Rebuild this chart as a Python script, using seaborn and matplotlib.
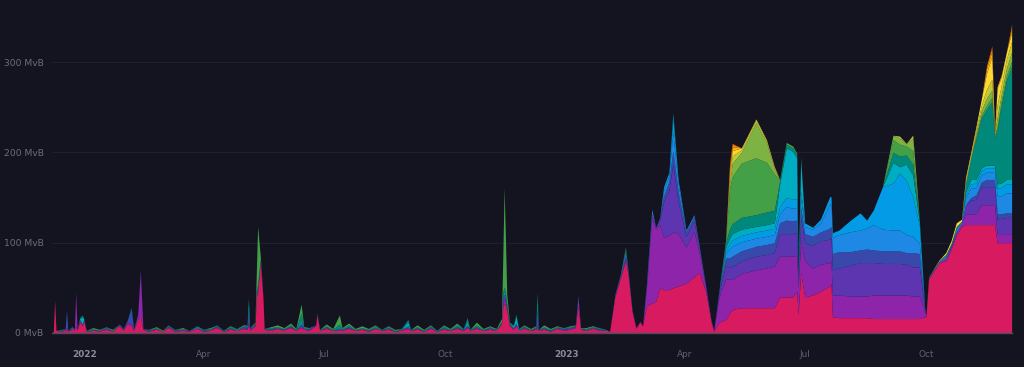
import numpy as np
import pandas as pd
import matplotlib
matplotlib.use("Agg")
import matplotlib.pyplot as plt
import seaborn as sns

# ---------------- data ----------------
layer_names = ["pk", "pu", "dp", "ind", "bl", "lb", "cy", "tl", "gr", "lg", "li", "ye", "am", "orr", "do"]
layer_colors = ["#D81B60", "#8E24AA", "#5E35B1", "#3949AB", "#1E88E5", "#039BE5", "#00ACC1",
                "#00897B", "#43A047", "#7CB342", "#C0CA33", "#FDD835", "#FFB300", "#FB8C00", "#F4511E"]

# quiet period (Dec 2021 - Jan 2023): only a few fee layers present
quiet_dates = [
    "2021-12-07", "2021-12-08", "2021-12-09", "2021-12-10", "2021-12-14", "2021-12-17", "2021-12-18", "2021-12-19",
    "2021-12-22", "2021-12-24", "2021-12-25", "2021-12-26", "2021-12-28", "2021-12-30", "2021-12-31",
    "2022-01-02", "2022-01-07", "2022-01-12", "2022-01-17", "2022-01-22", "2022-01-27", "2022-01-30", "2022-02-02",
    "2022-02-05", "2022-02-07", "2022-02-10", "2022-02-12", "2022-02-14", "2022-02-18", "2022-02-24",
    "2022-03-01", "2022-03-05", "2022-03-10", "2022-03-16", "2022-03-21", "2022-03-27", "2022-04-01", "2022-04-06",
    "2022-04-11", "2022-04-16", "2022-04-21", "2022-04-26", "2022-05-01", "2022-05-04", "2022-05-05",
    "2022-05-06", "2022-05-10", "2022-05-11", "2022-05-12", "2022-05-14", "2022-05-16", "2022-05-17", "2022-05-22",
    "2022-05-27", "2022-06-01", "2022-06-06", "2022-06-10", "2022-06-14", "2022-06-16", "2022-06-20",
    "2022-06-25", "2022-06-26", "2022-06-28", "2022-07-03", "2022-07-08", "2022-07-13", "2022-07-15", "2022-07-20",
    "2022-07-25", "2022-07-30", "2022-08-04", "2022-08-09", "2022-08-14", "2022-08-19", "2022-08-24",
    "2022-08-29", "2022-09-03", "2022-09-05", "2022-09-10", "2022-09-15", "2022-09-20", "2022-09-25", "2022-09-30",
    "2022-10-05", "2022-10-10", "2022-10-15", "2022-10-18", "2022-10-20", "2022-10-25", "2022-10-30",
    "2022-11-04", "2022-11-09", "2022-11-13", "2022-11-14", "2022-11-15", "2022-11-16", "2022-11-17", "2022-11-19",
    "2022-11-22", "2022-11-24", "2022-11-26", "2022-11-30", "2022-12-05", "2022-12-09", "2022-12-10",
    "2022-12-11", "2022-12-15", "2022-12-20", "2022-12-25", "2022-12-30", "2023-01-04", "2023-01-08", "2023-01-10",
    "2023-01-12", "2023-01-16", "2023-01-21", "2023-01-26", "2023-01-31",
]
quiet_pk = [0, 2, 36, 3, 2, 3, 4, 2, 4, 3, 8, 3, 12, 8, 14,
            2, 3, 2, 4, 2, 8, 3, 10, 8, 3, 15, 18, 4, 2, 4,
            2, 6, 2, 3, 2, 5, 2, 3, 6, 2, 4, 3, 5, 4, 10,
            3, 8, 40, 45, 78, 40, 4, 3, 5, 3, 6, 3, 6, 4, 3,
            8, 20, 3, 5, 3, 3, 3, 5, 3, 4, 2, 5, 3, 4, 2,
            3, 5, 3, 4, 2, 5, 2, 4, 3, 5, 3, 6, 3, 5, 3,
            4, 3, 10, 30, 33, 30, 25, 8, 4, 8, 3, 5, 3, 4, 5,
            3, 4, 2, 5, 3, 4, 6, 30, 4, 3, 5, 3, 3]
quiet_pu = [0, 0, 1, 0, 0, 1, 2, 0, 1, 2, 36, 1, 2, 1, 1,
            0, 0, 1, 1, 0, 1, 1, 2, 2, 1, 5, 50, 1, 0, 1,
            0, 1, 1, 0, 1, 1, 0, 1, 1, 0, 1, 0, 1, 1, 2,
            1, 1, 2, 2, 2, 1, 0, 1, 0, 1, 1, 0, 2, 1, 1,
            1, 1, 0, 1, 0, 1, 1, 1, 0, 1, 0, 1, 0, 1, 0,
            1, 1, 0, 1, 0, 1, 0, 1, 0, 1, 0, 1, 0, 1, 0,
            1, 0, 1, 5, 5, 5, 3, 1, 1, 1, 0, 1, 0, 1, 2,
            0, 1, 0, 1, 1, 1, 1, 10, 1, 0, 1, 1, 0]
quiet_ind = [0, 0, 0, 0, 1, 1, 20, 1, 1, 0, 2, 0, 1, 1, 0,
             0, 1, 0, 1, 0, 1, 0, 2, 16, 0, 1, 2, 0, 1, 0,
             0, 1, 0, 1, 0, 0, 1, 0, 1, 0, 1, 0, 1, 2, 14,
             1, 1, 2, 2, 1, 0, 0, 1, 1, 0, 1, 0, 3, 0, 1,
             0, 0, 0, 1, 0, 1, 0, 1, 0, 0, 1, 0, 0, 1, 0,
             0, 2, 0, 1, 0, 1, 0, 1, 0, 1, 1, 2, 0, 1, 0,
             1, 0, 1, 5, 5, 4, 2, 1, 1, 2, 0, 1, 0, 1, 18,
             0, 1, 1, 0, 1, 1, 1, 1, 0, 1, 0, 1, 0]
quiet_cy = [0, 0, 0, 0, 0, 0, 0, 0, 0, 0, 0, 0, 1, 8, 1,
            0, 0, 0, 0, 0, 0, 0, 0, 1, 0, 0, 0, 0, 0, 0,
            0, 0, 0, 0, 0, 1, 0, 0, 0, 0, 0, 1, 0, 1, 10,
            0, 0, 1, 1, 0, 0, 0, 0, 0, 0, 0, 0, 3, 0, 0,
            0, 0, 0, 0, 0, 1, 0, 0, 0, 0, 0, 0, 0, 0, 0,
            0, 4, 0, 0, 0, 0, 0, 0, 0, 0, 0, 4, 0, 0, 0,
            0, 0, 0, 2, 3, 2, 1, 0, 2, 8, 1, 0, 0, 0, 2,
            0, 0, 0, 0, 0, 0, 0, 0, 0, 0, 0, 0, 0]
quiet_tl = [0, 0, 0, 0, 1, 0, 0, 0, 1, 0, 0, 0, 1, 2, 0,
            1, 1, 0, 1, 1, 0, 1, 0, 1, 1, 0, 0, 0, 1, 1,
            0, 1, 1, 1, 0, 1, 1, 1, 1, 1, 1, 1, 1, 1, 3,
            1, 1, 3, 3, 1, 0, 1, 1, 1, 1, 1, 1, 8, 1, 1,
            0, 1, 1, 1, 1, 4, 1, 2, 1, 1, 1, 2, 1, 1, 1,
            1, 3, 1, 1, 1, 1, 1, 2, 1, 2, 1, 3, 1, 2, 1,
            1, 1, 1, 3, 5, 4, 2, 1, 1, 2, 1, 1, 1, 1, 18,
            1, 1, 1, 1, 1, 1, 1, 1, 1, 1, 1, 1, 1]
quiet_gr = [0, 0, 0, 0, 0, 0, 0, 0, 0, 0, 0, 0, 0, 0, 0,
            0, 1, 1, 0, 1, 0, 0, 0, 0, 0, 0, 0, 0, 0, 1,
            1, 0, 0, 1, 0, 0, 0, 1, 0, 0, 1, 0, 1, 0, 0,
            0, 1, 20, 65, 3, 0, 0, 1, 2, 1, 2, 1, 10, 1, 0,
            0, 0, 0, 2, 1, 10, 1, 2, 1, 2, 1, 1, 0, 1, 1,
            0, 0, 0, 2, 1, 1, 0, 1, 1, 2, 0, 1, 0, 3, 1,
            1, 1, 3, 40, 110, 60, 10, 1, 0, 0, 0, 1, 1, 1, 0,
            0, 2, 1, 1, 0, 1, 0, 0, 0, 1, 1, 0, 0]

# busy period (Feb 2023 - Dec 2023): all fee layers
busy_dates = [
    "2023-02-03", "2023-02-07", "2023-02-11", "2023-02-15", "2023-02-17", "2023-02-20", "2023-02-23", "2023-02-26",
    "2023-02-28", "2023-03-03", "2023-03-07", "2023-03-10", "2023-03-13", "2023-03-16", "2023-03-20", "2023-03-23",
    "2023-03-27", "2023-04-02", "2023-04-08", "2023-04-12", "2023-04-17", "2023-04-21", "2023-04-23", "2023-04-27",
    "2023-05-02", "2023-05-05", "2023-05-07", "2023-05-14", "2023-05-25", "2023-06-02", "2023-06-08", "2023-06-12",
    "2023-06-17", "2023-06-22", "2023-06-25", "2023-06-26", "2023-06-28", "2023-07-01", "2023-07-07", "2023-07-13",
    "2023-07-20", "2023-07-21", "2023-07-22", "2023-07-27", "2023-08-04", "2023-08-12", "2023-08-17", "2023-08-22",
    "2023-08-29", "2023-09-06", "2023-09-11", "2023-09-16", "2023-09-21", "2023-09-26", "2023-09-30", "2023-10-01",
    "2023-10-03", "2023-10-11", "2023-10-16", "2023-10-20", "2023-10-24", "2023-10-28", "2023-10-31", "2023-11-04",
    "2023-11-08", "2023-11-12", "2023-11-16", "2023-11-20", "2023-11-22", "2023-11-24", "2023-11-27", "2023-12-01",
    "2023-12-05",
]
busy_pk = [2, 40, 60, 80, 65, 24, 5, 12, 8, 30, 33, 35, 50, 48, 48, 50, 52, 55, 62, 67,
           45, 12, 2, 12, 15, 22, 26, 28, 28, 28, 28, 40, 40, 40, 46, 20, 67, 40, 42, 46,
           52, 55, 18, 17, 17, 17, 17, 16, 16, 16, 16, 16, 16, 16, 18, 18, 60, 78, 80, 92,
           108, 118, 120, 120, 120, 120, 120, 120, 120, 100, 100, 100, 100]
busy_pu = [0, 2, 2, 3, 2, 2, 1, 1, 0, 20, 95, 80, 70, 58, 60, 62, 58, 40, 50, 22,
           5, 2, 1, 28, 45, 38, 33, 38, 42, 44, 46, 45, 45, 45, 40, 30, 35, 40, 30, 30,
           26, 25, 24, 25, 24, 24, 24, 26, 26, 26, 26, 26, 25, 25, 6, 2, 1, 1, 3, 3,
           4, 4, 12, 12, 12, 22, 22, 22, 22, 10, 10, 10, 10]
busy_dp = [0] * 9 + [3, 5, 2, 5, 40, 50, 75, 35, 12, 12, 5,
                     0, 0, 0, 5, 15, 13, 15, 14, 15, 15, 15, 25, 25, 25, 25, 10, 25, 20, 25, 26,
                     26, 26, 28, 30, 34, 37, 37, 36, 35, 35, 35, 34, 32, 32, 3, 0, 0, 0, 0, 0,
                     0, 0, 10, 15, 16, 20, 20, 20, 20, 16, 17, 18, 18]
busy_ind = [0, 1, 0, 3, 0, 0, 0, 0, 0, 0, 0, 0, 3, 6, 10, 15, 12, 5, 5, 0,
            0, 0, 0, 3, 8, 10, 11, 11, 11, 11, 11, 12, 15, 14, 14, 0, 12, 10, 10, 10,
            12, 12, 18, 18, 15, 14, 15, 14, 14, 14, 14, 13, 16, 15, 2, 0, 0, 0, 0, 2,
            0, 0, 0, 3, 5, 5, 8, 8, 8, 6, 5, 5, 5]
busy_bl = [0, 0, 1, 4, 2, 0, 0, 0, 0, 2, 4, 0, 0, 6, 6, 20, 8, 2, 2, 2,
           1, 0, 0, 0, 6, 10, 11, 10, 9, 9, 9, 10, 15, 14, 14, 0, 10, 8, 8, 10,
           27, 25, 18, 19, 22, 22, 23, 28, 24, 23, 23, 20, 18, 11, 0, 0, 0, 1, 2, 0,
           3, 2, 8, 10, 8, 8, 8, 8, 8, 20, 20, 22, 22]
busy_lb = [0] * 13 + [4, 4, 15, 5, 0, 0, 0,
                      0, 0, 0, 0, 3, 6, 7, 7, 7, 7, 7, 8, 10, 10, 10, 0, 8, 4, 2, 4,
                      8, 8, 5, 5, 12, 19, 9, 16, 47, 52, 63, 60, 44, 20, 0, 0, 0, 0, 0, 0,
                      0, 0, 3, 5, 5, 5, 5, 5, 5, 8, 9, 10, 10]
busy_cy = ([0] * 15 + [5] + [0] * 8 + [3, 6, 7, 7, 6, 6, 6, 25, 55, 53, 45, 0, 35, 0, 0, 0]
           + [0] * 9 + [23, 7, 18, 24, 4] + [0] * 8 + [3, 5, 4, 3, 3, 3, 3, 5, 5, 5, 5])
busy_tl = ([0, 0, 1, 3] + [0] * 11 + [2] + [0] * 8 + [5, 10, 11, 13, 13, 14, 14, 3, 4, 4, 3, 0, 3]
           + [0] * 12 + [11, 12, 10, 12, 2, 0, 0, 1, 0, 2, 2, 3, 0, 10, 24, 45, 55, 62, 70, 30, 60, 85, 110, 125])
busy_gr = ([0, 0, 0, 2] + [0] * 20 + [3, 45, 52, 60, 63, 55, 40, 2, 2, 2, 2, 0, 0]
           + [0] * 12 + [14, 13, 10, 15, 0] + [0] * 10 + [3, 3, 4, 5, 3, 3, 4, 5, 6])
busy_lg = [0] * 25 + [5, 15, 12, 39, 22, 5] + [0] * 18 + [5, 7, 3, 14, 0] + [0] * 10 + [4, 5, 8, 8, 3, 10, 8, 8, 10]
busy_li = ([0] * 25 + [6, 8, 3, 3, 2, 2] + [0] * 19 + [2, 0, 3] + [0] * 4 + [1] + [0] * 4
           + [3, 3, 4, 6, 10, 12, 0, 15, 10, 10, 12])
busy_ye = [0] * 25 + [6, 6, 2, 1, 1, 1] + [0] * 27 + [2, 3, 4, 2, 3, 3, 3, 7, 18, 25, 0, 18, 10, 8, 10]
busy_am = [0] * 25 + [4, 4] + [0] * 39 + [5, 6, 0, 2, 2, 0, 4]
busy_orr = [0] * 25 + [4, 3] + [0] * 39 + [3, 4, 0, 0, 0, 0, 3]
busy_do = [0] * 25 + [3, 1] + [0] * 40 + [2, 0, 0, 0, 0, 2]

tick_dates = ["2022-01-01", "2022-04-01", "2022-07-01", "2022-10-01",
              "2023-01-01", "2023-04-01", "2023-07-01", "2023-10-01"]
tick_labels = ["2022", "Apr", "Jul", "Oct", "2023", "Apr", "Jul", "Oct"]
y_ticks = [0, 100, 200, 300]
y_labels = ["0 MvB", "100 MvB", "200 MvB", "300 MvB"]

# ---------------- frame ----------------
quiet = pd.DataFrame({"pk": quiet_pk, "pu": quiet_pu, "ind": quiet_ind, "cy": quiet_cy,
                      "tl": quiet_tl, "gr": quiet_gr}, index=pd.to_datetime(quiet_dates))
busy_cols = {"pk": busy_pk, "pu": busy_pu, "dp": busy_dp, "ind": busy_ind, "bl": busy_bl, "lb": busy_lb,
             "cy": busy_cy, "tl": busy_tl, "gr": busy_gr, "lg": busy_lg, "li": busy_li, "ye": busy_ye,
             "am": busy_am, "orr": busy_orr, "do": busy_do}
for k, v in busy_cols.items():
    assert len(v) == len(busy_dates), (k, len(v))
busy = pd.DataFrame(busy_cols, index=pd.to_datetime(busy_dates))
df = pd.concat([quiet, busy]).fillna(0).reindex(columns=layer_names, fill_value=0).sort_index()

# ---------------- plot ----------------
sns.set_theme(style="dark")
plt.rcParams["font.family"] = ["DejaVu Sans"]
bg = "#13141f"
palette = sns.color_palette(layer_colors)

fig = plt.figure(figsize=(10.24, 3.67), dpi=100, facecolor=bg)
ax = fig.add_axes([52 / 1024, 34 / 367, 960 / 1024, 323 / 367])
ax.set_facecolor(bg)

ax.stackplot(df.index, df.T.values, colors=palette, linewidth=0, zorder=2)

ax.set_xlim(pd.Timestamp("2021-12-07"), pd.Timestamp("2023-12-05 07:00"))
ax.set_ylim(0, 357.6)

ax.set_yticks(y_ticks, y_labels)
ax.set_xticks(pd.to_datetime(tick_dates), tick_labels)
ax.set_axisbelow(True)
ax.yaxis.grid(True, color="#1e202e", linewidth=0.8)
ax.xaxis.grid(False)

sns.despine(ax=ax, left=True, top=True, right=True)
ax.spines["bottom"].set_color("#4a4d5c")
ax.spines["bottom"].set_linewidth(1.0)
ax.spines["bottom"].set_zorder(3)

ax.tick_params(axis="y", length=0, pad=6, labelsize=6.6, labelcolor="#6b6e7e")
ax.tick_params(axis="x", length=3, width=0.8, color="#4a4d5c", pad=9, labelsize=6.4, labelcolor="#5f6272")
for lab in ax.get_xticklabels():
    if lab.get_text().isdigit():
        lab.set_fontweight("bold")
        lab.set_color("#8a8c99")

fig.savefig("out.png", dpi=100, facecolor=bg)
